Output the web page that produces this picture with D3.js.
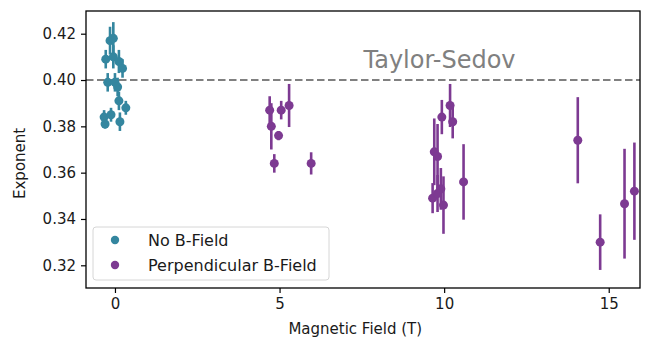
<!DOCTYPE html>
<html>
<head>
<meta charset="utf-8">
<script src="https://cdn.jsdelivr.net/npm/d3@7"></script>
<style>
  body { margin: 0; background: #fff; }
  text { font-family: "DejaVu Sans", sans-serif; }
</style>
</head>
<body>
<script>
// No B-field shots, all around 0 T
const noFieldX = [-0.28, -0.15, -0.05, -0.05, 0.12, 0.23, -0.22, 0.0, 0.08, 0.12, 0.33, -0.33, -0.12, -0.3, 0.15]
const noFieldY = [0.409, 0.417, 0.418, 0.410, 0.408, 0.405, 0.399, 0.399, 0.397, 0.391, 0.388, 0.384, 0.385, 0.381, 0.382]
const noFieldErr = [0.004, 0.006, 0.007, 0.005, 0.005, 0.004, 0.004, 0.004, 0.004, 0.004, 0.003, 0.003, 0.003, 0.002, 0.004]

// perpendicular B-field shots
const perpX = [4.7, 4.75, 4.97, 5.05, 5.29, 4.84, 5.96,
  10.18, 9.93, 10.26, 9.7, 9.8, 10.59, 9.65, 9.8, 9.9, 9.98,
  14.06, 14.74, 15.48, 15.78]
const perpY = [0.387, 0.380, 0.376, 0.387, 0.389, 0.364, 0.364,
  0.389, 0.384, 0.382, 0.369, 0.367, 0.356, 0.349, 0.351, 0.353, 0.346,
  0.374, 0.330, 0.3466, 0.352]
const perpErr = [0.006, 0.010, 0.002, 0.004, 0.0093, 0.004, 0.0048,
  0.0093, 0.0074, 0.0072, 0.0144, 0.014, 0.0163, 0.0065, 0.008, 0.009, 0.0124,
  0.0186, 0.012, 0.0237, 0.021]

const xTicks = [0, 5, 10, 15]
const yTicks = [0.32, 0.34, 0.36, 0.38, 0.40, 0.42]
const seriesNames = ['No B-Field', 'Perpendicular B-Field']
const seriesColors = ['#34869f', '#7d3a92']
const refValue = 0.40
const refLabel = 'Taylor-Sedov'

const W = 645, H = 340
const margin = {top: 11, right: 5, bottom: 52, left: 86}
const width = W - margin.left - margin.right,
      height = H - margin.top - margin.bottom

const svg = d3.select('body').append('svg')
    .attr('width', W)
    .attr('height', H)

const g = svg.append('g')
    .attr('transform', 'translate(' + margin.left + ',' + margin.top + ')')

const x = d3.scaleLinear()
    .domain([-0.88, 15.95])
    .range([0, width])

const y = d3.scaleLinear()
    .domain([0.3102, 0.4298])
    .range([height, 0])

const clip = svg.append('clipPath').attr('id', 'plotclip')
clip.append('rect').attr('width', width).attr('height', height)

const xAxis = g.append('g')
    .attr('transform', 'translate(0,' + height + ')')
    .call(d3.axisBottom(x).tickValues(xTicks).tickSize(5).tickPadding(5).tickFormat(d3.format('d')))
const yAxis = g.append('g')
    .call(d3.axisLeft(y).tickValues(yTicks).tickSize(5).tickPadding(5).tickFormat(d3.format('.2f')))

for (const ax of [xAxis, yAxis]) {
  ax.select('.domain').remove()
  ax.selectAll('line').attr('stroke', '#000').attr('stroke-width', 1.2)
  ax.selectAll('text').attr('fill', '#1a1a1a').style('font-size', '15px')
    .style('font-family', '"DejaVu Sans", sans-serif')
}

const plot = g.append('g').attr('clip-path', 'url(#plotclip)')

// reference line
plot.append('line')
    .attr('x1', 0).attr('x2', width)
    .attr('y1', y(refValue)).attr('y2', y(refValue))
    .attr('stroke', '#808080')
    .attr('stroke-width', 2)
    .attr('stroke-dasharray', '7.5,3.5')

g.append('text')
    .attr('x', x(7.55))
    .attr('y', y(0.4053))
    .attr('fill', '#808080')
    .style('font-size', '24px')
    .text(refLabel)

function drawSeries(xs, ys, errs, color) {
  const pts = xs.map((v, i) => ({x: v, y: ys[i], e: errs[i]}))
  const s = plot.append('g')
  s.selectAll('line')
    .data(pts)
    .join('line')
    .attr('x1', d => x(d.x)).attr('x2', d => x(d.x))
    .attr('y1', d => y(d.y - d.e)).attr('y2', d => y(d.y + d.e))
    .attr('stroke', color)
    .attr('stroke-width', 2.6)
  s.selectAll('circle')
    .data(pts)
    .join('circle')
    .attr('cx', d => x(d.x))
    .attr('cy', d => y(d.y))
    .attr('r', 4.5)
    .attr('fill', color)
}

drawSeries(noFieldX, noFieldY, noFieldErr, seriesColors[0])
drawSeries(perpX, perpY, perpErr, seriesColors[1])

// frame
g.append('rect')
    .attr('width', width).attr('height', height)
    .attr('fill', 'none').attr('stroke', '#000').attr('stroke-width', 1.3)

// legend
const legend = g.append('g').attr('transform', 'translate(7,216)')
legend.append('rect')
    .attr('width', 236).attr('height', 53)
    .attr('rx', 3)
    .attr('fill', 'rgba(255,255,255,0.8)')
    .attr('stroke', '#d6d6d6')
seriesNames.forEach((name, i) => {
  legend.append('circle')
      .attr('cx', 22).attr('cy', 13 + i * 25)
      .attr('r', 4.2)
      .attr('fill', seriesColors[i])
  legend.append('text')
      .attr('x', 55).attr('y', 13 + i * 25)
      .attr('dy', '0.35em')
      .attr('fill', '#1a1a1a')
      .style('font-size', '16px')
      .text(name)
})

// axis titles
svg.append('text')
    .attr('x', margin.left + x(7.3))
    .attr('y', 334)
    .attr('text-anchor', 'middle')
    .attr('fill', '#1a1a1a')
    .style('font-size', '15px')
    .text('Magnetic Field (T)')

svg.append('text')
    .attr('transform', 'translate(25,' + (margin.top + y(0.364)) + ') rotate(-90)')
    .attr('text-anchor', 'middle')
    .attr('fill', '#1a1a1a')
    .style('font-size', '15px')
    .text('Exponent')
</script>
</body>
</html>
